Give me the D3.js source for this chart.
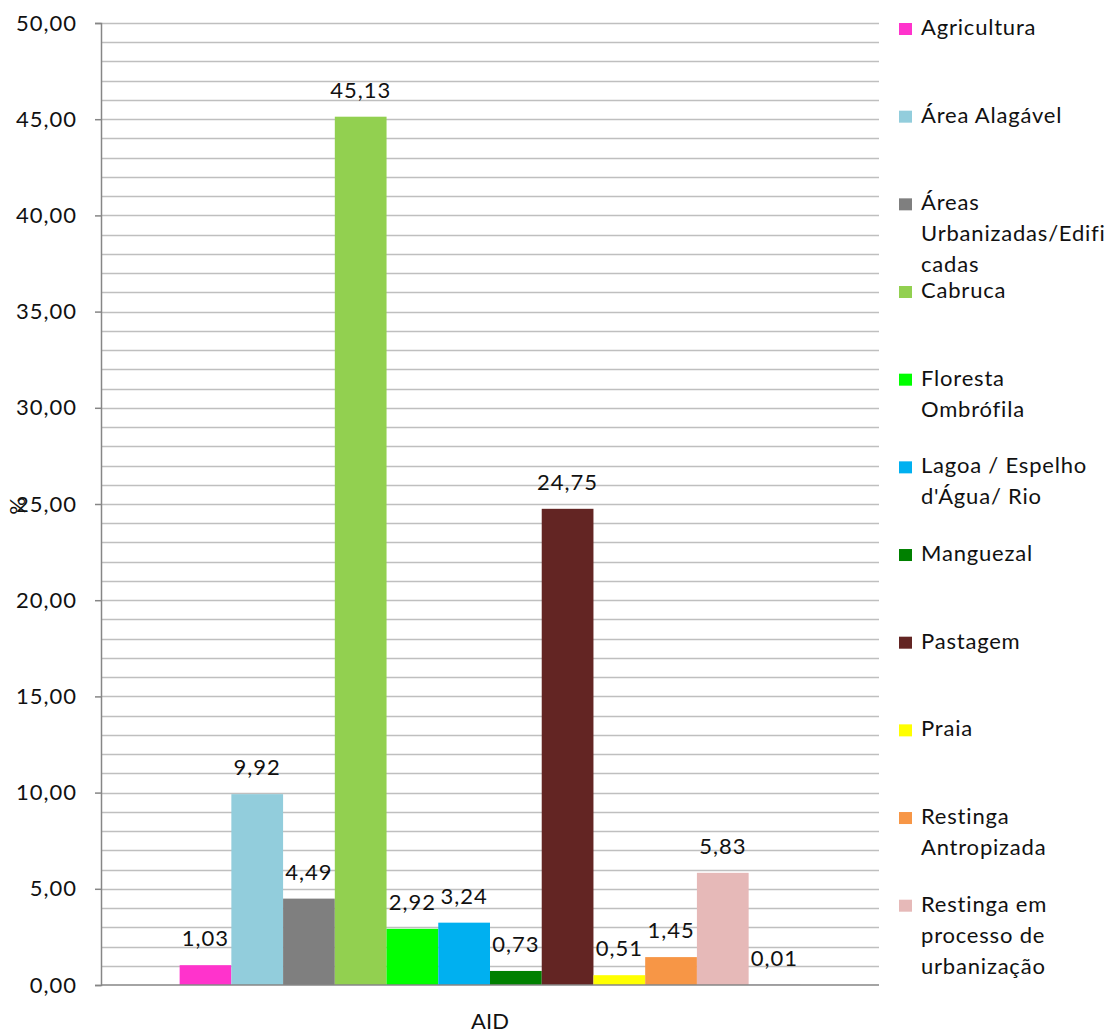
<!DOCTYPE html>
<html>
<head>
<meta charset="utf-8">
<script src="https://cdn.jsdelivr.net/npm/d3@7"></script>
<style>
  html, body { margin: 0; padding: 0; background: #fff; }
  svg { display: block; }
  text { font-family: Lato, "Open Sans", sans-serif; fill: #111; }
</style>
</head>
<body>
<svg id="chart" width="1115" height="1033"></svg>
<script>
// Uso do solo na AID (% da área)
const categories = [
  "Agricultura",
  "Área Alagável",
  "Áreas Urbanizadas/Edificadas",
  "Cabruca",
  "Floresta Ombrófila",
  "Lagoa / Espelho d'Água/ Rio",
  "Manguezal",
  "Pastagem",
  "Praia",
  "Restinga Antropizada",
  "Restinga em processo de urbanização",
  "Outros"
];
const values = [1.03, 9.92, 4.49, 45.13, 2.92, 3.24, 0.73, 24.75, 0.51, 1.45, 5.83, 0.01];
const colors = ["#FF33CC", "#92CDDC", "#7F7F7F", "#92D050", "#00FF00", "#00B0F0",
                "#008000", "#632523", "#FFFF00", "#F79646", "#E6B9B8", "#8064A2"];
// legend text as wrapped in the legend box
const legendLines = [
  ["Agricultura"],
  ["Área Alagável"],
  ["Áreas", "Urbanizadas/Edifi", "cadas"],
  ["Cabruca"],
  ["Floresta", "Ombrófila"],
  ["Lagoa / Espelho", "d'Água/ Rio"],
  ["Manguezal"],
  ["Pastagem"],
  ["Praia"],
  ["Restinga", "Antropizada"],
  ["Restinga em", "processo de", "urbanização"],
  ["Outros"]
];
const yTicks = [0, 5, 10, 15, 20, 25, 30, 35, 40, 45, 50];
const groupLabel = "AID";
const yLabel = "%";

const svg = d3.select("#chart");
const plot = { left: 101, right: 879, top: 23, bottom: 985 };

const ptBR = d3.formatLocale({ decimal: ",", thousands: ".", grouping: [3], currency: ["R$ ", ""] });
const fmt = ptBR.format(".2f");

const x = d3.scaleBand()
  .domain(categories)
  .range([plot.left, plot.right])
  .paddingInner(0)
  .paddingOuter(1.52);

const y = d3.scaleLinear()
  .domain([0, 50])
  .range([plot.bottom, plot.top]);

// minor gridlines every 1 unit
svg.append("g")
  .selectAll("line")
  .data(d3.range(1, 51, 1))
  .join("line")
  .attr("x1", plot.left)
  .attr("x2", plot.right)
  .attr("y1", d => Math.round(y(d)) + 0.5)
  .attr("y2", d => Math.round(y(d)) + 0.5)
  .attr("stroke", "#BFBFBF")
  .attr("stroke-width", 1.5);

// bars
svg.append("g")
  .selectAll("rect")
  .data(categories)
  .join("rect")
  .attr("x", d => x(d))
  .attr("width", x.bandwidth())
  .attr("y", (d, i) => y(values[i]))
  .attr("height", (d, i) => plot.bottom - y(values[i]))
  .attr("fill", (d, i) => colors[i]);

// value labels
svg.append("g")
  .selectAll("text")
  .data(categories)
  .join("text")
  .attr("x", d => x(d) + x.bandwidth() / 2)
  .attr("y", (d, i) => y(values[i]) - 19)
  .attr("text-anchor", "middle")
  .style("font-size", "22px")
  .style("letter-spacing", "1px")
  .text((d, i) => fmt(values[i]));

// y axis
const yAxis = svg.append("g")
  .attr("transform", `translate(${plot.left},0)`)
  .call(d3.axisLeft(y).tickValues(yTicks).tickSize(6).tickPadding(18).tickFormat(fmt));
yAxis.select(".domain").attr("stroke", "#868686").attr("stroke-width", 1.5);
yAxis.selectAll(".tick line").attr("stroke", "#868686").attr("stroke-width", 1.5);
yAxis.selectAll(".tick text")
  .style("font-size", "22px")
  .style("letter-spacing", "1px")
  .style("font-family", "Lato, sans-serif")
  .attr("fill", "#111");

// x axis baseline
svg.append("line")
  .attr("x1", plot.left)
  .attr("x2", plot.right)
  .attr("y1", plot.bottom)
  .attr("y2", plot.bottom)
  .attr("stroke", "#868686")
  .attr("stroke-width", 1.5);

// axis titles
svg.append("text")
  .attr("x", (plot.left + plot.right) / 2)
  .attr("y", 1029)
  .attr("text-anchor", "middle")
  .style("font-size", "22px")
  .text(groupLabel);

svg.append("text")
  .attr("transform", `translate(25,506) rotate(-90)`)
  .attr("text-anchor", "middle")
  .style("font-size", "22px")
  .text(yLabel);

// legend: entries that fit above the plot bottom
const legend = { x: 899, textX: 921, first: 35, step: 87.67, lineH: 31 };
const legendData = categories
  .map((c, i) => ({ c, i, base: legend.first + i * legend.step }))
  .filter(d => d.base <= plot.bottom);

const items = svg.append("g")
  .selectAll("g")
  .data(legendData)
  .join("g");

items.append("rect")
  .attr("x", legend.x)
  .attr("y", d => d.base - 12)
  .attr("width", 13)
  .attr("height", 12)
  .attr("fill", d => colors[d.i]);

items.append("text")
  .attr("x", legend.textX)
  .attr("y", d => d.base)
  .style("font-size", "22px")
  .style("letter-spacing", "0.8px")
  .selectAll("tspan")
  .data(d => legendLines[d.i])
  .join("tspan")
  .attr("x", legend.textX)
  .attr("dy", (t, j) => j === 0 ? 0 : legend.lineH)
  .text(t => t);
</script>
</body>
</html>
